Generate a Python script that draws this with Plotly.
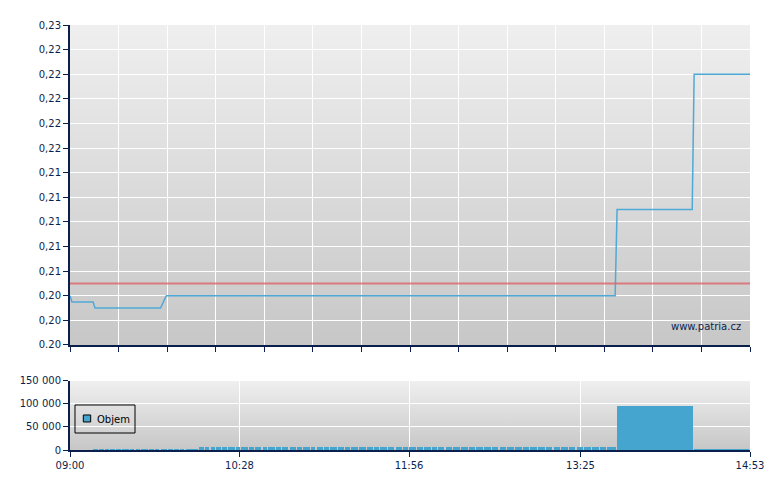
import base64
import plotly.graph_objects as go
from plotly.subplots import make_subplots

# ---------------- data ----------------
price_times = ["09:00", "09:01", "09:12", "09:13", "09:47", "09:50", "13:43", "13:44", "14:23", "14:24", "14:53"]
price_values = [0.204, 0.2035, 0.2035, 0.203, 0.203, 0.204, 0.204, 0.211, 0.211, 0.222, 0.222]
prev_close = 0.205

vol_times = ["09:12", "09:15", "09:18", "09:21", "09:24", "09:27", "09:31", "09:34", "09:37", "09:41",
             "09:44", "09:47", "09:51", "09:54", "09:57", "10:00",
             "10:07", "10:10", "10:13", "10:16", "10:19", "10:22", "10:26", "10:29", "10:33", "10:36",
             "10:40", "10:43", "10:47", "10:50", "10:54", "10:58", "11:01", "11:05", "11:08", "11:12",
             "11:15", "11:19", "11:23", "11:26", "11:30", "11:34", "11:38", "11:41", "11:45", "11:49",
             "11:53", "11:56", "12:00", "12:04", "12:08", "12:11", "12:15", "12:19", "12:23", "12:27",
             "12:31", "12:35", "12:39", "12:43", "12:47", "12:51", "12:55", "12:59", "13:03", "13:07",
             "13:11", "13:15", "13:19", "13:23", "13:27", "13:31", "13:35", "13:39",
             "13:44", "14:24"]
vol_values = [1500, 1800, 1200, 1600, 1500, 1700, 1300, 1500, 1800, 1400,
              1600, 1500, 1300, 1700, 1500, 1600,
              6500, 6000, 6800, 6200, 6500, 5800, 6600, 6300, 6900, 6100,
              6400, 6000, 6700, 6200, 6500, 6800, 6000, 6600, 6300, 6100,
              6500, 6900, 6200, 6400, 6000, 6600, 6300, 6700, 6100, 6500,
              6200, 6800, 6400, 6000, 6600, 6300, 6500, 6100, 6700, 6200,
              6400, 6000, 6600, 6300, 6800, 6100, 6500, 6200, 6400, 6700,
              6000, 6500, 6300, 6600, 6200, 6400, 6100, 6500,
              95000, 1800]

session_start = "09:00"
session_end = "14:53"
time_ticks = ["09:00", "10:28", "11:56", "13:25", "14:53"]

price_tickvals = [0.200, 0.202, 0.204, 0.206, 0.208, 0.210, 0.212, 0.214,
                  0.216, 0.218, 0.220, 0.222, 0.224, 0.226]
price_ticktext = ["0.20", "0,20", "0,20", "0,21", "0,21", "0,21", "0,21", "0,21",
                  "0,22", "0,22", "0,22", "0,22", "0,22", "0,23"]
vol_tickvals = [0, 50000, 100000, 150000]
legend_label = "Objem"
watermark = "www.patria.cz"


def to_min(t):
    h, m = t.split(":")
    return (int(h) - 9) * 60 + int(m)


t0 = to_min(session_start)
t1 = to_min(session_end)
px = [to_min(t) for t in price_times]
vx = [to_min(t) for t in vol_times]
nexts = vx[1:] + [t1]
widths = [max(n - c - 0.6, 0.3) for c, n in zip(vx, nexts)]

NAVY = "#0b1f4d"
BLUE_LINE = "#4fa9d6"
BLUE_BAR = "#45a5ce"

fig = make_subplots(rows=2, cols=1, shared_xaxes=False, vertical_spacing=0)

fig.add_trace(go.Scatter(x=px, y=price_values, mode="lines",
                         line=dict(color=BLUE_LINE, width=1.5),
                         showlegend=False, hoverinfo="skip"), row=1, col=1)

fig.add_trace(go.Bar(x=vx, y=vol_values, width=widths, offset=0, name=legend_label,
                     marker=dict(color=BLUE_BAR, line=dict(width=0)),
                     showlegend=False, hoverinfo="skip"), row=2, col=1)

fig.add_shape(type="line", xref="x domain", yref="y", x0=0, x1=1,
              y0=prev_close, y1=prev_close,
              line=dict(color="rgba(220,100,105,0.8)", width=2), layer="above")

# hand-drawn legend box (paper coords)
fig.add_shape(type="rect", xref="paper", yref="paper", x0=0.00735, x1=0.0956,
              y0=0.04, y1=0.1059, line=dict(color="black", width=1),
              fillcolor="rgba(0,0,0,0)", layer="above")
fig.add_shape(type="rect", xref="paper", yref="paper", x0=0.0196, x1=0.0304,
              y0=0.0659, y1=0.0824, line=dict(color="black", width=1),
              fillcolor=BLUE_BAR, layer="above")
fig.add_annotation(text=legend_label, xref="paper", yref="paper", x=0.0368, y=0.0729,
                   xanchor="left", yanchor="middle", showarrow=False,
                   font=dict(size=10, color="black"))

svg = ('<svg xmlns="http://www.w3.org/2000/svg" width="10" height="100" viewBox="0 0 10 100" '
       'preserveAspectRatio="none"><defs><linearGradient id="g" x1="0" y1="0" x2="0" y2="1">'
       '<stop offset="0" stop-color="#efefef"/><stop offset="1" stop-color="#c7c7c7"/>'
       '</linearGradient></defs><rect width="10" height="100" fill="url(#g)"/></svg>')
src = "data:image/svg+xml;base64," + base64.b64encode(svg.encode()).decode()
for xr, yr in (("x domain", "y domain"), ("x2 domain", "y2 domain")):
    fig.add_layout_image(dict(source=src, xref=xr, yref=yr, x=0, y=1, sizex=1, sizey=1,
                              xanchor="left", yanchor="top", sizing="stretch", layer="below"))

fig.add_annotation(text=watermark, xref="x domain", yref="y", x=0.99,
                   y=0.2015, xanchor="right", yanchor="middle", showarrow=False,
                   font=dict(size=10, color=NAVY))

axis_common = dict(showline=True, linecolor=NAVY, linewidth=2, ticks="outside",
                   tickcolor=NAVY, ticklen=5, tickwidth=1, gridcolor="white",
                   gridwidth=1, zeroline=False, automargin=False,
                   tickfont=dict(size=10, color=NAVY))

fig.update_xaxes(range=[t0, t1], tickmode="linear", tick0=t0, dtick=(t1 - t0) / 14,
                 showticklabels=False, domain=[0, 1], **axis_common, row=1, col=1)
fig.update_yaxes(range=[price_tickvals[0], price_tickvals[-1]], tickvals=price_tickvals,
                 ticktext=price_ticktext, domain=[0.2471, 1], **axis_common, row=1, col=1)
fig.update_xaxes(range=[t0, t1], tickvals=[to_min(t) for t in time_ticks], ticktext=time_ticks,
                 domain=[0, 1], **axis_common, row=2, col=1)
fig.update_yaxes(range=[0, 150000], tickvals=vol_tickvals, tickformat=",d",
                 domain=[0, 0.1624], **axis_common, row=2, col=1)

fig.update_layout(
    width=780, height=490,
    margin=dict(l=70, r=30, t=25, b=40),
    paper_bgcolor="white", plot_bgcolor="rgba(0,0,0,0)",
    separators=", ",
    font=dict(family="DejaVu Sans", size=10, color=NAVY),
    bargap=0,
    showlegend=False,
)

fig.write_html("out.html", config={"displayModeBar": False},
               post_script="document.body.style.margin='0';")
